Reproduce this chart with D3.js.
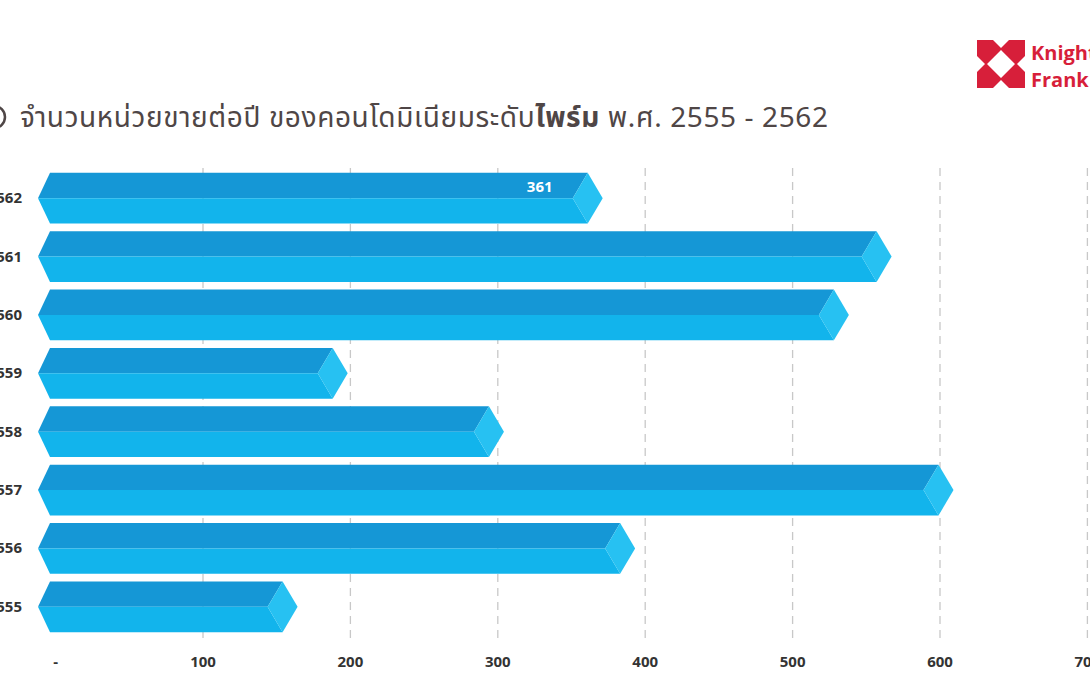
<!DOCTYPE html><html><head><meta charset="utf-8"><script src="https://cdn.jsdelivr.net/npm/d3@7"></script>
<style>body{margin:0;background:#fff;overflow:hidden}</style></head><body><svg id="c" width="1090" height="700"></svg>
<script>
const years=["2562","2561","2560","2559","2558","2557","2556","2555"];
const values=[361,557,528,188,294,599,383,154];
const ticks=[0,100,200,300,400,500,600,700];
const tickLabels=["-","100","200","300","400","500","600","700"];
const svg=d3.select("#c");
const x=d3.scaleLinear().domain([0,700]).range([55.6,1087.4]);
const y=d3.scaleBand().domain(years).range([171,634]).paddingInner(0.13).paddingOuter(0.03);
const font="'Noto Sans Thai','Noto Sans','DejaVu Sans',sans-serif";
svg.selectAll("line.g").data(ticks.slice(1)).enter().append("line")
 .attr("x1",d=>x(d)).attr("x2",d=>x(d)).attr("y1",168).attr("y2",638)
 .attr("stroke","#c8c8c8").attr("stroke-dasharray","8,6").attr("stroke-width",1.3);
svg.selectAll("text.t").data(ticks).enter().append("text")
 .attr("x",d=>x(d)).attr("y",667).attr("text-anchor","middle").attr("font-family",font)
 .attr("font-weight","bold").attr("font-size",15).attr("fill","#333").text((d,i)=>tickLabels[i]);
const g=svg.selectAll("g.b").data(years).enter().append("g");
g.each(function(yr,i){
 const s=d3.select(this), t=y(yr), h=y.bandwidth(), m=t+h/2, b=t+h, e=x(values[i]), l0=38, l1=50, tip=15;
 s.append("path").attr("d",`M${l0},${m}L${l1},${t}L${e},${t}L${e-tip},${m}Z`).attr("fill","#1597d6");
 s.append("path").attr("d",`M${l0},${m}L${e-tip},${m}L${e},${b}L${l1},${b}Z`).attr("fill","#12b4ec");
 s.append("path").attr("d",`M${e},${t}L${e+tip},${m}L${e},${b}L${e-tip},${m}Z`).attr("fill","#27c1f2");
 s.append("text").attr("x",22).attr("y",m+5).attr("text-anchor","end").attr("font-family",font)
  .attr("font-weight","bold").attr("font-size",15).attr("fill","#333").text(yr);
 if(i===0) s.append("text").attr("x",e-48).attr("y",t+19).attr("text-anchor","middle").attr("font-family",font)
  .attr("font-weight","bold").attr("font-size",15).attr("fill","#fff").text(values[i]);
});
const tt=svg.append("text").attr("x",20).attr("y",127).attr("font-family",font).attr("font-size",28).attr("fill","#4f4646")
 .attr("textLength",808).attr("lengthAdjust","spacing");
tt.append("tspan").text("จำนวนหน่วยขายต่อปี ของคอนโดมิเนียมระดับ");
tt.append("tspan").attr("font-weight","bold").text("ไพร์ม");
tt.append("tspan").text(" พ.ศ. 2555 - 2562");
svg.append("circle").attr("cx",-6).attr("cy",117).attr("r",11).attr("fill","none").attr("stroke","#4f4646").attr("stroke-width",2.5);
const lg=svg.append("g").attr("fill","#d71f3a");
lg.append("path").attr("d","M977,40H993L1001,48L1009,40H1025V56L1017,64L1025,72V88H1009L1001,80L993,88H977V72L985,64L977,56Z M1001,50L987,64L1001,78L1015,64Z").attr("fill-rule","evenodd");
svg.append("text").attr("x",1031).attr("y",60).attr("font-family","'Open Sans',sans-serif").attr("font-weight","bold").attr("font-size",20).attr("fill","#d71f3a").text("Knight");
svg.append("text").attr("x",1031).attr("y",87).attr("font-family","'Open Sans',sans-serif").attr("font-weight","bold").attr("font-size",20).attr("fill","#d71f3a").text("Frank");
</script></body></html>
